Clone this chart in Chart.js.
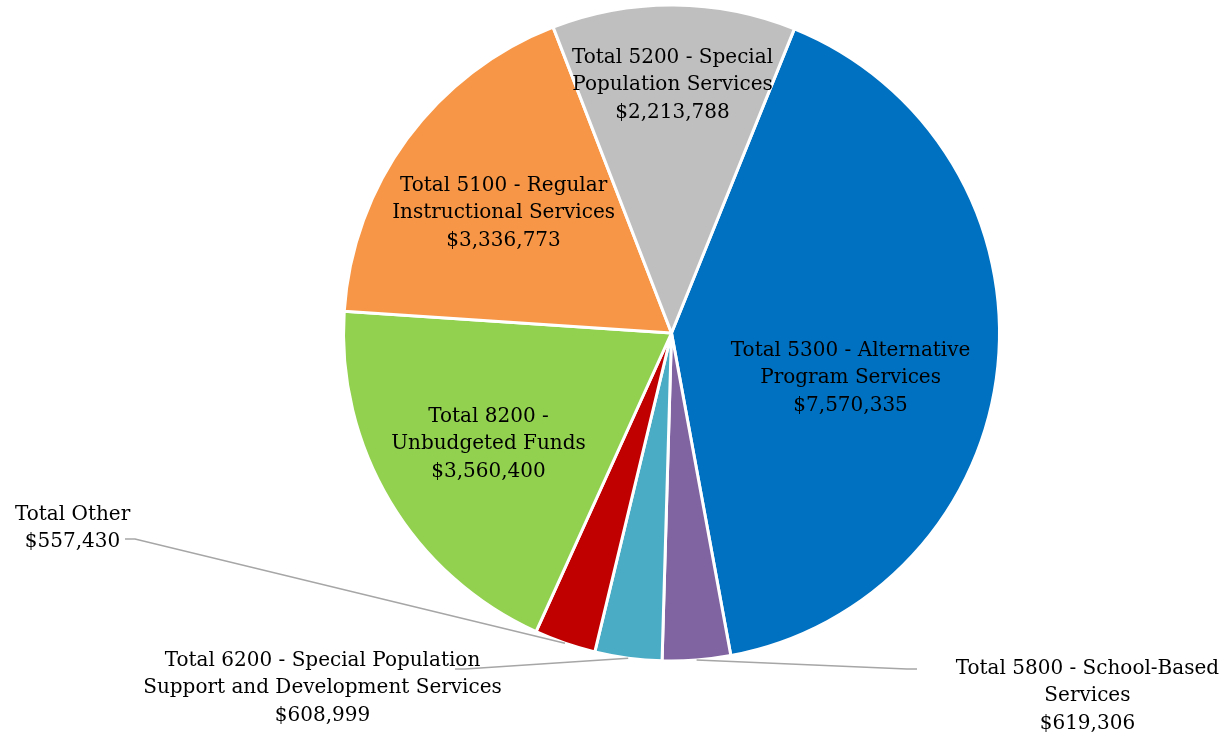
<!DOCTYPE html>
<html>
<head>
<meta charset="utf-8">
<script src="https://cdn.jsdelivr.net/npm/chart.js@4"></script>
<style>
body{margin:0;background:#fff;}
#wrap{width:1222px;height:736px;}
</style>
</head>
<body>
<div id="wrap"><canvas id="myChart" width="1222" height="736"></canvas></div>
<script>
'use strict';
//categories (each label split in lines)
let labelLines=[
  ['Total 5300 - Alternative','Program Services'],
  ['Total 5800 - School-Based','Services'],
  ['Total 6200 - Special Population','Support and Development Services'],
  ['Total Other'],
  ['Total 8200 -','Unbudgeted Funds'],
  ['Total 5100 - Regular','Instructional Services'],
  ['Total 5200 - Special','Population Services']
];
//values
let amounts=[7570335,619306,608999,557430,3560400,3336773,2213788];
//colors
let sliceColors=['#0070C0','#8064A2','#4BACC6','#C00000','#92D050','#F79646','#BFBFBF'];
//label placement, in radius units from the pie center
let labelPos=[[0.546,0.137],[1.268,1.107],[-1.064,1.082],[-1.826,0.595],[-0.558,0.338],[-0.512,-0.366],[0.003,-0.756]];
//which labels have a leader line, and which side it leaves from
let leaderSide=[0,-1,1,1,0,0,0];
let leaderStart=[null,[917,669],[455,669],[125,539],null,null,null];

let fontSize=20;
let lineH=27.5;

function money(v){
  return '$'+v.toLocaleString('en-US');
}

let labelPlugin={
  id:'pieLabels',
  afterDatasetsDraw(chart){
    let ctx=chart.ctx;
    let meta=chart.getDatasetMeta(0);
    meta.data.forEach(function(arc,i){
      let p=arc.getProps(['x','y','startAngle','endAngle','outerRadius'],true);
      let r=p.outerRadius;
      let cx=p.x+labelPos[i][0]*r;
      let cy=p.y+labelPos[i][1]*r;
      let lines=labelLines[i].concat([money(amounts[i])]);
      //leader line
      if(leaderSide[i]!==0){
        let mid=(p.startAngle+p.endAngle)/2;
        let ex=p.x+Math.cos(mid)*r;
        let ey=p.y+Math.sin(mid)*r;
        let s=leaderStart[i];
        ctx.save();
        ctx.strokeStyle='#A6A6A6';
        ctx.lineWidth=1.5;
        ctx.beginPath();
        ctx.moveTo(s[0],s[1]);
        ctx.lineTo(s[0]+leaderSide[i]*10,s[1]);
        ctx.lineTo(ex,ey);
        ctx.stroke();
        ctx.restore();
      }
      ctx.save();
      ctx.fillStyle='#000';
      ctx.font=fontSize+'px "DejaVu Serif"';
      ctx.textAlign='center';
      ctx.textBaseline='middle';
      let top=cy-(lines.length-1)*lineH/2;
      for(let k=0;k<lines.length;k++){
        ctx.fillText(lines[k],cx,top+k*lineH);
      }
      ctx.restore();
    });
  }
};

let ctx=document.getElementById('myChart').getContext('2d');
let myChart=new Chart(ctx,{
  type:'pie',
  data:{
    labels:labelLines.map(function(l){return l.join(' ');}),
    datasets:[{
      data:amounts,
      backgroundColor:sliceColors,
      borderColor:'#fff',
      borderWidth:3
    }]
  },
  options:{
    responsive:false,
    animation:false,
    rotation:22,
    layout:{padding:{left:342,right:221,top:3,bottom:73}},
    plugins:{
      legend:{display:false},
      tooltip:{enabled:false}
    }
  },
  plugins:[labelPlugin]
});
</script>
</body>
</html>
